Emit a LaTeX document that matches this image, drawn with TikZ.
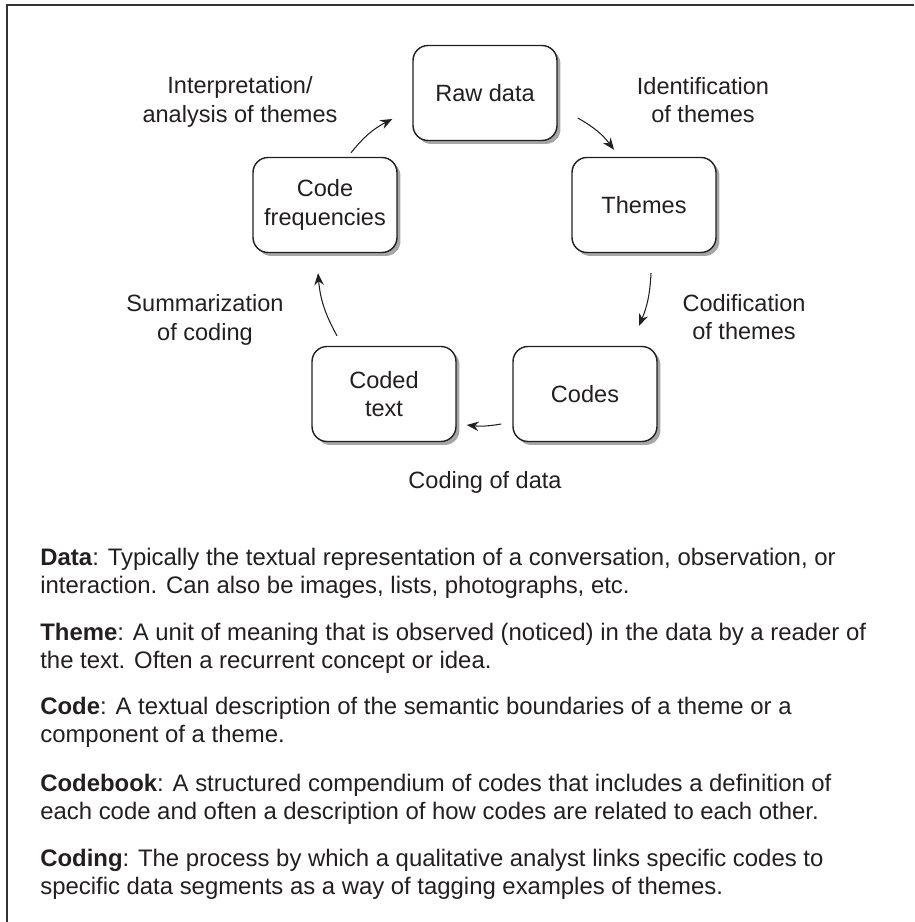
\documentclass[tikz,border=0pt]{standalone}
\usepackage{fontspec}
\setmainfont{Liberation Sans}
\usetikzlibrary{arrows.meta,shadows}
\definecolor{ink}{HTML}{231F20}
\definecolor{frame}{HTML}{333333}

\begin{document}
\begin{tikzpicture}[
  x=0.02cm, y=-0.02cm,
  font=\fontsize{13.4}{16.4}\selectfont, text=ink,
  stage/.style={draw=ink, line width=.8pt, rounded corners=.3cm, fill=white,
    minimum width=2.88cm, minimum height=1.9cm, align=center, inner sep=2pt,
    drop shadow={shadow xshift=.07cm, shadow yshift=-.07cm, fill=black!35, opacity=1}},
  steplabel/.style={align=center, inner sep=0pt},
  cyc/.style={-{Stealth[length=2.4mm,width=1.9mm]}, draw=ink, line width=.6pt},
  defn/.style={align=left, inner sep=0pt, anchor=west,
    font=\fontsize{13.6}{15.9}\selectfont}
]
  \useasboundingbox (0,0) rectangle (914,922);
  \draw[frame, line width=1.1pt] (7,922) -- (7,5) -- (914,5);

  % the five stages
  \node[stage] (raw) at (485,93) {Raw data};
  \node[stage] (themes) at (644,205) {Themes};
  \node[stage] (codes) at (585,394) {Codes};
  \node[stage] (coded) at (384,394) {Coded\\text};
  \node[stage] (freq) at (325,205) {Code\\frequencies};

  \draw[cyc] ([shift={(20,25)}]raw.east) to[bend left=12] ([shift={(-30,-7)}]themes.north);
  \draw[cyc] ([shift={(7,20)}]themes.south) to[bend left=10] ([shift={(54,-20)}]codes.north);
  \draw[cyc] ([shift={(-11,30)}]codes.west) to[bend left=8] ([shift={(10,31)}]coded.east);
  \draw[cyc] ([shift={(-47,-10)}]coded.north) to[bend left=12] ([shift={(-7,20)}]freq.south);
  \draw[cyc] ([shift={(26,-4)}]freq.north) to[bend left=12] ([shift={(-20,26)}]raw.west);

  \node[steplabel] (lblid) at (703,100) {Identification\\of themes};
  \node[steplabel] (lblcod) at (744,317) {Codification\\of themes};
  \node[steplabel, anchor=base] (lbldata) at (485,488) {Coding of data};
  \node[steplabel] (lblsum) at (205,320) {Summarization\\of coding};
  \node[steplabel] (lblint) at (240,102) {Interpretation/\\analysis of themes};

  % glossary
  \node[defn] (data) at (40,573) {\textbf{Data}: Typically the textual representation of a conversation, observation, or\\interaction. Can also be images, lists, photographs, etc.};
  \node[defn] (theme) at (40,648) {\textbf{Theme}: A unit of meaning that is observed (noticed) in the data by a reader of\\the text. Often a recurrent concept or idea.};
  \node[defn] (code) at (40,722) {\textbf{Code}: A textual description of the semantic boundaries of a theme or a\\component of a theme.};
  \node[defn] (book) at (40,799) {\textbf{Codebook}: A structured compendium of codes that includes a definition of\\each code and often a description of how codes are related to each other.};
  \node[defn] (coding) at (40,874) {\textbf{Coding}: The process by which a qualitative analyst links specific codes to\\specific data segments as a way of tagging examples of themes.};
\end{tikzpicture}
\end{document}
